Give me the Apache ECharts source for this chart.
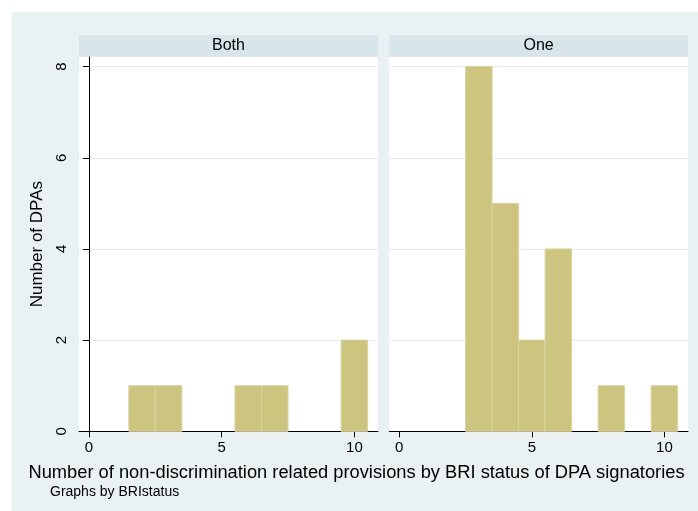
<!DOCTYPE html>
<html>
<head>
<meta charset="utf-8">
<script src="https://cdn.jsdelivr.net/npm/echarts@6/dist/echarts.min.js"></script>
<style>
  html, body { margin: 0; padding: 0; background: #ffffff; }
  #chart { width: 698px; height: 511px; }
</style>
</head>
<body>
<div id="chart"></div>
<script>
// Histogram of non-discrimination provisions, one panel per BRI status
const provisions = [0, 1, 2, 3, 4, 5, 6, 7, 8, 9, 10];
const bothCounts = [0, 0, 1, 1, 0, 0, 1, 1, 0, 0, 2];
const oneCounts  = [0, 0, 0, 8, 5, 2, 4, 0, 1, 0, 1];
const panelTitles = ['Both', 'One'];
const xTicks = [0, 5, 10];
const yTicks = [0, 2, 4, 6, 8];

const FONT = 'Liberation Sans, Arial, Helvetica, sans-serif';
const BAR_FILL = '#ccc47f';
const BAR_EDGE = '#d9d4a4';
const BG = '#e9f1f3';
const STRIP = '#d8e5ea';
const GRID_LINE = '#e6eef1';

const chart = echarts.init(document.getElementById('chart'), null, { renderer: 'canvas' });

function toPairs(counts) {
  return provisions.map((p, i) => [p, counts[i]]).filter(d => d[1] > 0);
}

// each bin is one unit wide, centred on its integer value
function renderBin(params, api) {
  const x = api.value(0);
  const y = api.value(1);
  const topLeft = api.coord([x - 0.5, y]);
  const bottomRight = api.coord([x + 0.5, 0]);
  return {
    type: 'rect',
    shape: {
      x: topLeft[0],
      y: topLeft[1],
      width: bottomRight[0] - topLeft[0],
      height: bottomRight[1] - topLeft[1]
    },
    style: { fill: BAR_FILL, stroke: BAR_EDGE, lineWidth: 1 }
  };
}

const gridTop = 57, gridHeight = 374.3;
const grids = [
  { left: 79, top: gridTop, width: 299, height: gridHeight },
  { left: 389.3, top: gridTop, width: 298.7, height: gridHeight }
];

function xAxisFor(i) {
  return {
    type: 'value', gridIndex: i, min: -0.377, max: 10.89,
    axisLine: { show: true, onZero: false, lineStyle: { color: '#000', width: 1 } },
    axisTick: { show: true, length: 6, customValues: xTicks, lineStyle: { color: '#000' } },
    axisLabel: { show: true, customValues: xTicks, margin: 9, color: '#000', fontFamily: FONT, fontSize: 15 },
    splitLine: { show: false }
  };
}

function yAxisFor(i) {
  const visible = i === 0;
  return {
    type: 'value', gridIndex: i, min: 0, max: 8.21,
    name: visible ? 'Number of DPAs' : '',
    nameLocation: 'middle', nameGap: 33, nameRotate: 90,
    nameTextStyle: { color: '#000', fontFamily: FONT, fontSize: 17 },
    axisLine: { show: visible, lineStyle: { color: '#000', width: 1 } },
    axisTick: { show: visible, length: 6, customValues: yTicks, lineStyle: { color: '#000' } },
    axisLabel: { show: visible, customValues: yTicks, rotate: 90, margin: 10, color: '#000', fontFamily: FONT, fontSize: 15 },
    splitLine: { show: true, lineStyle: { color: GRID_LINE, width: 1 } }
  };
}

const graphics = [
  { type: 'rect', z: -10, shape: { x: 11.7, y: 11.7, width: 700, height: 510 }, style: { fill: BG } },
  // white plot panels and their header strips
  { type: 'rect', z: -5, shape: { x: 79, y: gridTop, width: 299, height: gridHeight }, style: { fill: '#ffffff' } },
  { type: 'rect', z: -5, shape: { x: 389.3, y: gridTop, width: 298.7, height: gridHeight }, style: { fill: '#ffffff' } },
  { type: 'rect', z: -5, shape: { x: 79, y: 35, width: 299, height: 21.7 }, style: { fill: STRIP } },
  { type: 'rect', z: -5, shape: { x: 389.3, y: 35, width: 298.7, height: 21.7 }, style: { fill: STRIP } },
  { type: 'text', x: 228.5, y: 45.5, style: { text: panelTitles[0], fill: '#000', font: '16px ' + FONT, textAlign: 'center', textVerticalAlign: 'middle' } },
  { type: 'text', x: 538.6, y: 45.5, style: { text: panelTitles[1], fill: '#000', font: '16px ' + FONT, textAlign: 'center', textVerticalAlign: 'middle' } },
  { type: 'text', x: 356.5, y: 473, style: { text: 'Number of non-discrimination related provisions by BRI status of DPA signatories', fill: '#000', font: '18.3px ' + FONT, textAlign: 'center', textVerticalAlign: 'middle' } },
  { type: 'text', x: 50, y: 492, style: { text: 'Graphs by BRIstatus', fill: '#000', font: '14px ' + FONT, textAlign: 'left', textVerticalAlign: 'middle' } }
];

chart.setOption({
  backgroundColor: '#ffffff',
  animation: false,
  grid: grids,
  xAxis: [xAxisFor(0), xAxisFor(1)],
  yAxis: [yAxisFor(0), yAxisFor(1)],
  graphic: graphics,
  series: [
    { type: 'custom', xAxisIndex: 0, yAxisIndex: 0, renderItem: renderBin, data: toPairs(bothCounts), encode: { x: 0, y: 1 } },
    { type: 'custom', xAxisIndex: 1, yAxisIndex: 1, renderItem: renderBin, data: toPairs(oneCounts), encode: { x: 0, y: 1 } }
  ]
});
</script>
</body>
</html>
